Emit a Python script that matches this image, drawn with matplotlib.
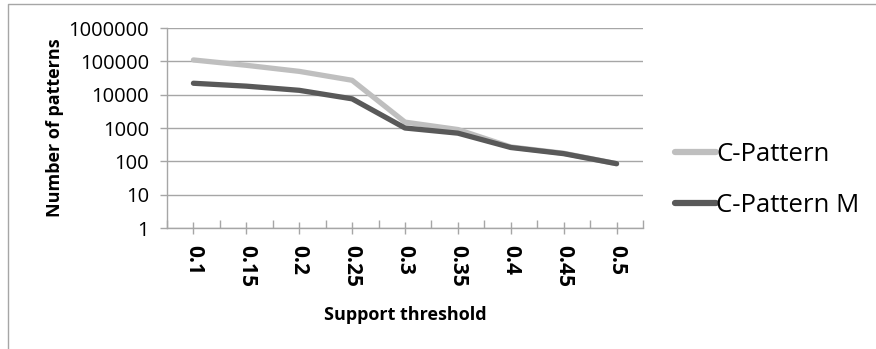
import numpy as np
import matplotlib
matplotlib.use('Agg')
import matplotlib.pyplot as plt
from matplotlib.lines import Line2D
from matplotlib.ticker import FixedLocator, NullFormatter

thresholds = ['0.1', '0.15', '0.2', '0.25', '0.3', '0.35', '0.4', '0.45', '0.5']
c_pattern = [110000, 76000, 50000, 27000, 1500, 900, 270, 175, 85]
c_pattern_m = [22000, 18000, 13500, 7500, 1000, 700, 260, 170, 85]
y_ticks = [1, 10, 100, 1000, 10000, 100000, 1000000]

plt.rcParams['font.family'] = ['Open Sans', 'DejaVu Sans']

W, H = 876, 349
fig = plt.figure(figsize=(W / 100, H / 100), dpi=100)
ax = fig.add_axes([167 / W, 1 - 228 / H, (643 - 167) / W, 200 / H])

x = np.arange(len(thresholds))
ax.plot(x, c_pattern, color='#bfbfbf', lw=3.8, solid_capstyle='round',
        solid_joinstyle='round', label='C-Pattern')
ax.plot(x, c_pattern_m, color='#595959', lw=3.8, solid_capstyle='round',
        solid_joinstyle='round', label='C-Pattern M')

ax.set_yscale('log')
ax.set_ylim(1, 1000000)
ax.set_xlim(-0.5, len(thresholds) - 0.5)
ax.yaxis.set_major_locator(FixedLocator(y_ticks))
ax.yaxis.set_minor_locator(FixedLocator([]))
ax.set_yticklabels([str(v) for v in y_ticks])
ax.grid(axis='y', color='#a6a6a6', lw=1)
ax.set_axisbelow(True)

ax.set_xticks(x)
ax.set_xticklabels(thresholds, rotation=-90, fontweight='bold', fontsize=15)
ax.xaxis.set_minor_locator(FixedLocator(np.arange(len(thresholds) + 1) - 0.5))
ax.xaxis.set_minor_formatter(NullFormatter())
ax.tick_params(axis='x', which='major', direction='inout', length=8.5,
               color='#a6a6a6', width=1, pad=8)
ax.tick_params(axis='x', which='minor', direction='in', length=5.8,
               color='#a6a6a6', width=1)
ax.tick_params(axis='y', direction='out', length=5, color='#a6a6a6', width=1,
               labelsize=14.5, pad=8)

for s in ['top', 'right']:
    ax.spines[s].set_visible(False)
for s in ['left', 'bottom']:
    ax.spines[s].set_color('#a6a6a6')
    ax.spines[s].set_linewidth(1)

ax.set_xlabel('Support threshold', fontweight='bold', fontsize=13, labelpad=14)
ax.set_ylabel('Number of patterns', fontweight='bold', fontsize=13, labelpad=3)

leg = fig.legend(loc='center left', bbox_to_anchor=(652 / W, 1 - 180 / H),
                 frameon=False, fontsize=18.5, handlelength=1.6, handletextpad=0.0,
                 labelspacing=1.0)
for h in leg.get_lines():
    h.set_linewidth(4.5)

fig.add_artist(Line2D([8 / W, 8 / W, 1], [0, 1 - 4 / H, 1 - 4 / H],
                      transform=fig.transFigure, color='#a6a6a6', lw=1))

fig.savefig('out.png', dpi=100)
